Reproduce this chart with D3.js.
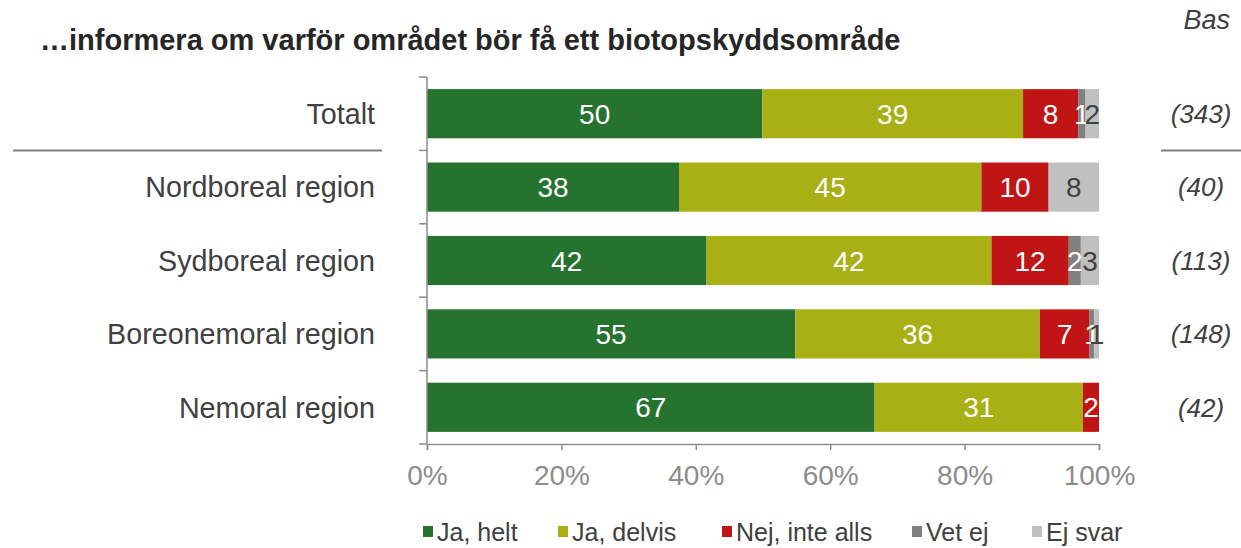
<!DOCTYPE html>
<html><head><meta charset="utf-8">
<script src="https://cdn.jsdelivr.net/npm/d3@7"></script>
<style>
html,body{margin:0;padding:0;background:#fff;}
svg{display:block;font-family:"Liberation Sans",Arial,sans-serif;}
</style></head>
<body><svg id="chart" width="1241" height="548"></svg>
<script>
const categories = ["Totalt","Nordboreal region","Sydboreal region","Boreonemoral region","Nemoral region"];
const bases = ["(343)","(40)","(113)","(148)","(42)"];
const seriesNames = ["Ja, helt","Ja, delvis","Nej, inte alls","Vet ej","Ej svar"];
const jaHelt      = [49.9, 37.5, 41.6, 54.8, 66.6];
const jaDelvis    = [38.8, 45.0, 42.4, 36.4, 31.0];
const nejInteAlls = [8.2, 10.0, 11.5, 7.4, 2.4];
const vetEj       = [1.1, 0, 1.8, 0.7, 0];
const ejSvar      = [2.0, 7.5, 2.7, 0.7, 0];
const tickValues  = [0,20,40,60,80,100];
const titleText = "…informera om varför området bör få ett biotopskyddsområde";
const basTitle = "Bas";

const colors = ["#267330","#a8b015","#c01515","#808080","#c0c0c0"];
const labelColors = ["#fff","#fff","#fff","#fff","#404040"];
const seriesValues = [jaHelt, jaDelvis, nejInteAlls, vetEj, ejSvar];

const rows = categories.map((c,i)=>{
  const o = {cat:c};
  seriesNames.forEach((s,j)=>o[s]=seriesValues[j][i]);
  return o;
});
const stacked = d3.stack().keys(seriesNames)(rows);

const svg = d3.select("#chart");
const x = d3.scaleLinear().domain([0,100]).range([427,1099]);
const y = d3.scaleBand().domain(categories).range([77,444]).paddingInner(0.33).paddingOuter(0.165);

// title
svg.append("text").attr("x",40).attr("y",50).attr("font-size",29).attr("font-weight","bold")
  .attr("fill","#262626").text(titleText);
svg.append("text").attr("x",1230).attr("y",29).attr("text-anchor","end").attr("font-size",27)
  .attr("font-style","italic").attr("fill","#404040").text(basTitle);

// bars
const g = svg.append("g");
stacked.forEach((layer,j)=>{
  g.selectAll(null).data(layer).enter().append("rect")
    .attr("x",d=>x(d[0])).attr("width",d=>x(d[1])-x(d[0]))
    .attr("y",d=>y(d.data.cat)).attr("height",y.bandwidth())
    .attr("fill",colors[j]);
});
stacked.forEach((layer,j)=>{
  g.selectAll(null).data(layer.filter(d=>d[1]-d[0]>0)).enter().append("text")
    .attr("x",d=>(x(d[0])+x(d[1]))/2).attr("y",d=>y(d.data.cat)+y.bandwidth()/2)
    .attr("dy","0.36em").attr("text-anchor","middle").attr("font-size",28)
    .attr("fill",labelColors[j]).text(d=>Math.round(d[1]-d[0]));
});

// left axis line + ticks at band boundaries
const axCol = "#8c8c8c";
svg.append("line").attr("x1",427).attr("x2",427).attr("y1",77).attr("y2",444).attr("stroke",axCol).attr("stroke-width",1.5);
const step = y.step();
d3.range(categories.length+1).forEach(i=>{
  const yy = y.range()[0] + i*step;
  svg.append("line").attr("x1",419).attr("x2",427).attr("y1",yy).attr("y2",yy).attr("stroke",axCol).attr("stroke-width",1.5);
});

// bottom axis
const xAxis = d3.axisBottom(x).tickValues(tickValues).tickFormat(d=>d+"%").tickSize(6).tickPadding(15);
const xg = svg.append("g").attr("transform","translate(0,444)").call(xAxis);
xg.select(".domain").attr("stroke",axCol).attr("stroke-width",1.5);
xg.selectAll(".tick line").attr("stroke",axCol).attr("stroke-width",1.5);
xg.selectAll(".tick text").attr("font-size",28).attr("fill","#8c8c8c").attr("font-family","Liberation Sans, Arial, sans-serif");

// category labels
svg.selectAll(null).data(categories).enter().append("text")
  .attr("x",375).attr("y",d=>y(d)+y.bandwidth()/2).attr("dy","0.36em")
  .attr("text-anchor","end").attr("font-size",28.7).attr("fill","#404040").text(d=>d);

// bases
svg.selectAll(null).data(bases).enter().append("text")
  .attr("x",1201).attr("y",(d,i)=>y(categories[i])+y.bandwidth()/2).attr("dy","0.36em")
  .attr("text-anchor","middle").attr("font-size",26).attr("font-style","italic").attr("fill","#404040").text(d=>d);

// separator lines
const sepY = y.range()[0] + step;
svg.append("line").attr("x1",13).attr("x2",382).attr("y1",sepY).attr("y2",sepY).attr("stroke","#808080").attr("stroke-width",2);
svg.append("line").attr("x1",1161).attr("x2",1241).attr("y1",sepY).attr("y2",sepY).attr("stroke","#808080").attr("stroke-width",2);

// legend
const legX = [423,558,722,912,1032];
const lg = svg.append("g");
seriesNames.forEach((s,j)=>{
  lg.append("rect").attr("x",legX[j]).attr("y",526).attr("width",10).attr("height",11).attr("fill",colors[j]);
  lg.append("text").attr("x",legX[j]+14).attr("y",532).attr("dy","0.36em").attr("font-size",25).attr("fill","#404040").text(s);
});
</script></body></html>
